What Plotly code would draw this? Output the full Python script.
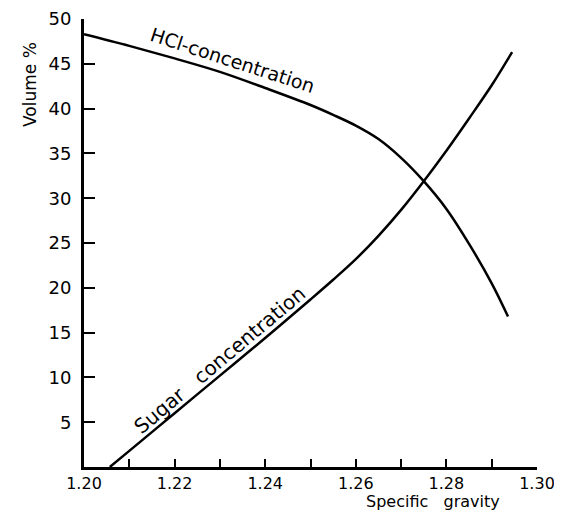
import plotly.graph_objects as go

# Data
hcl_x = [1.200, 1.210, 1.220, 1.230, 1.240, 1.250, 1.255, 1.260, 1.265, 1.270, 1.275, 1.280, 1.285, 1.290, 1.2936]
hcl_y = [48.3, 47.0, 45.6, 44.1, 42.3, 40.4, 39.3, 38.1, 36.6, 34.5, 31.9, 28.8, 24.9, 20.5, 16.8]

sugar_x = [1.2057, 1.210, 1.220, 1.230, 1.240, 1.250, 1.255, 1.260, 1.265, 1.270, 1.275, 1.280, 1.285, 1.290, 1.2945]
sugar_y = [0.0, 1.8, 6.0, 10.2, 14.4, 18.7, 20.9, 23.2, 25.8, 28.7, 31.9, 35.3, 38.9, 42.6, 46.3]

x_tickvals = [1.20, 1.22, 1.24, 1.26, 1.28, 1.30]
x_ticktext = ["1.20", "1.22", "1.24", "1.26", "1.28", "1.30"]
y_tickvals = [5, 10, 15, 20, 25, 30, 35, 40, 45, 50]

FONT = "DejaVu Sans"

fig = go.Figure()
fig.add_trace(go.Scatter(x=hcl_x, y=hcl_y, mode="lines", line=dict(color="black", width=2.5, shape="spline"),
                         cliponaxis=False, showlegend=False))
fig.add_trace(go.Scatter(x=sugar_x, y=sugar_y, mode="lines", line=dict(color="black", width=2.5, shape="spline"),
                         cliponaxis=False, showlegend=False))

fig.update_xaxes(range=[1.20, 1.30], tickvals=x_tickvals, ticktext=x_ticktext, automargin=False,
                 showgrid=False, zeroline=False, showline=True, linecolor="black", linewidth=3,
                 ticks="inside", ticklen=8, tickwidth=2, tickcolor="black",
                 minor=dict(dtick=0.01, ticks="inside", ticklen=8, tickwidth=2, tickcolor="black", showgrid=False),
                 tickfont=dict(family=FONT, size=16, color="black"), ticklabelstandoff=0,
                 ticklabeloverflow="allow")
fig.update_yaxes(range=[0, 50], tickvals=y_tickvals, automargin=False,
                 showgrid=False, zeroline=False, showline=True, linecolor="black", linewidth=3,
                 ticks="inside", ticklen=11, tickwidth=2, tickcolor="black",
                 tickfont=dict(family=FONT, size=18, color="black"), ticklabelstandoff=6,
                 ticklabeloverflow="allow")

fig.add_annotation(text="Volume %", xref="paper", yref="paper", x=-0.119, y=0.853,
                   xanchor="center", yanchor="middle",
                   textangle=-90, showarrow=False, font=dict(family=FONT, size=17, color="black"))
fig.add_annotation(text="Specific   gravity", xref="paper", yref="paper", x=0.77, y=-0.078,
                   xanchor="center", yanchor="middle",
                   showarrow=False, font=dict(family=FONT, size=16, color="black"))
fig.add_annotation(text="HCl-concentration", x=1.2327, y=45.4, textangle=18, showarrow=False,
                   xanchor="center", yanchor="middle",
                   font=dict(family=FONT, size=19, color="black"))
fig.add_annotation(text="Sugar   concentration", x=1.2300, y=11.9, textangle=-40, showarrow=False,
                   xanchor="center", yanchor="middle",
                   font=dict(family=FONT, size=20, color="black"))

# page body has an 8px margin: figure sits at (8, 8)
fig.update_layout(width=554, height=504, margin=dict(l=76, r=25, t=11, b=45),
                  plot_bgcolor="white", paper_bgcolor="white")

fig.write_html("out.html")
